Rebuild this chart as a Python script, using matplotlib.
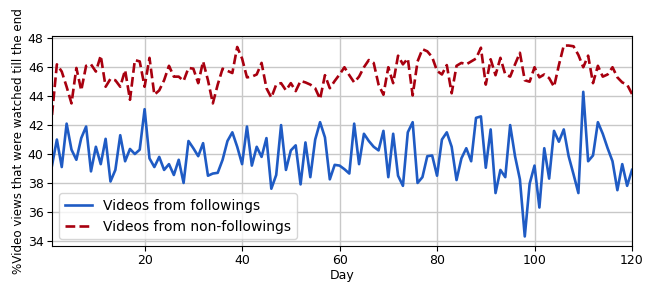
import matplotlib

matplotlib.use("Agg")
import matplotlib.pyplot as plt  # noqa: E402

days = list(range(1, 121))

# % of views watched till the end, videos from followings
followings = [
    39.2, 41.0, 39.1, 42.1, 40.3, 39.6, 41.1, 41.9, 38.8, 40.5,
    39.3, 41.05, 38.1, 38.9, 41.3, 39.5, 40.35, 40.0, 40.3, 43.1,
    39.7, 39.1, 39.8, 38.9, 39.3, 38.55, 39.6, 38.0, 40.9, 40.4,
    39.85, 40.75, 38.5, 38.65, 38.7, 39.6, 40.9, 41.5, 40.5, 39.3,
    41.9, 39.2, 40.5, 39.8, 41.1, 37.6, 38.55, 42.0, 38.9, 40.25,
    40.6, 37.9, 40.8, 38.4, 41.0, 42.2, 41.15, 38.25, 39.25, 39.2,
    38.95, 38.65, 42.1, 39.3, 41.4, 40.9, 40.5, 40.25, 41.6, 38.4,
    41.4, 38.5, 37.8, 41.5, 42.2, 38.0, 38.4, 39.85, 39.9, 38.5,
    41.0, 41.5, 40.5, 38.2, 39.7, 40.4, 39.5, 42.5, 42.6, 39.05,
    41.7, 37.3, 38.9, 38.4, 42.0, 39.85, 38.25, 34.3, 37.95, 39.2,
    36.3, 40.4, 38.3, 41.6, 40.85, 41.7, 39.85, 38.6, 37.3, 44.3,
    39.5, 39.9, 42.2, 41.4, 40.4, 39.5, 37.5, 39.3, 37.8, 38.9,
]

# same metric, videos from non-followings
non_followings = [
    42.7, 46.2, 45.7, 44.65, 43.5, 45.95, 44.4, 46.1, 46.2, 45.7,
    46.8, 44.65, 45.2, 45.1, 44.65, 45.8, 43.75, 46.5, 46.4, 44.65,
    46.65, 44.1, 44.4, 45.1, 46.1, 45.35, 45.35, 45.05, 45.95, 45.9,
    44.9, 46.4, 45.1, 43.5, 44.8, 45.9, 45.75, 45.6, 47.4, 46.6,
    45.3, 45.35, 45.5, 46.3, 44.55, 43.9, 44.8, 44.9, 44.4, 44.9,
    44.35, 45.05, 44.95, 44.8, 44.55, 43.8, 45.45, 44.55, 45.05, 45.5,
    46.0, 45.45, 44.95, 45.35, 46.0, 46.5, 46.3, 44.8, 44.1, 46.0,
    44.9, 46.8, 46.2, 46.6, 44.05, 46.4, 47.25, 47.1, 46.7, 45.75,
    45.5, 46.15, 44.2, 46.1, 46.3, 46.2, 46.4, 46.6, 47.35, 44.8,
    46.55, 45.45, 46.65, 45.5, 45.35, 46.2, 47.0, 45.1, 45.0, 46.0,
    45.3, 45.5, 45.25, 44.65, 46.15, 47.5, 47.5, 47.45, 46.85, 46.0,
    46.8, 44.9, 46.1, 45.35, 45.5, 46.0, 45.3, 44.95, 44.8, 44.15,
]

x_ticks = [20, 40, 60, 80, 100, 120]
y_ticks = [34, 36, 38, 40, 42, 44, 46, 48]

fig = plt.figure(figsize=(6.57, 2.84), dpi=100)
ax = fig.add_axes([52 / 657, 1 - 246 / 284, 580 / 657, 210 / 284])

ax.plot(days, followings, color="#1f5bc4", lw=1.9, label="Videos from followings")
ax.plot(days, non_followings, color="#a8000f", lw=1.9, ls="--",
        label="Videos from non-followings")

ax.set_xlim(1, 120)
ax.set_xticks(x_ticks)
ax.set_yticks(y_ticks)
ax.tick_params(labelsize=9, pad=2.5)
ax.grid(True, color="#c8c8c8", lw=1)
ax.set_axisbelow(True)
ax.set_xlabel("Day", fontsize=9, labelpad=1)
ax.set_ylabel("%Video views that were watched till the end", fontsize=8.6, labelpad=2)
ax.legend(loc="lower left", fontsize=10)

fig.savefig("out.png", dpi=100)
